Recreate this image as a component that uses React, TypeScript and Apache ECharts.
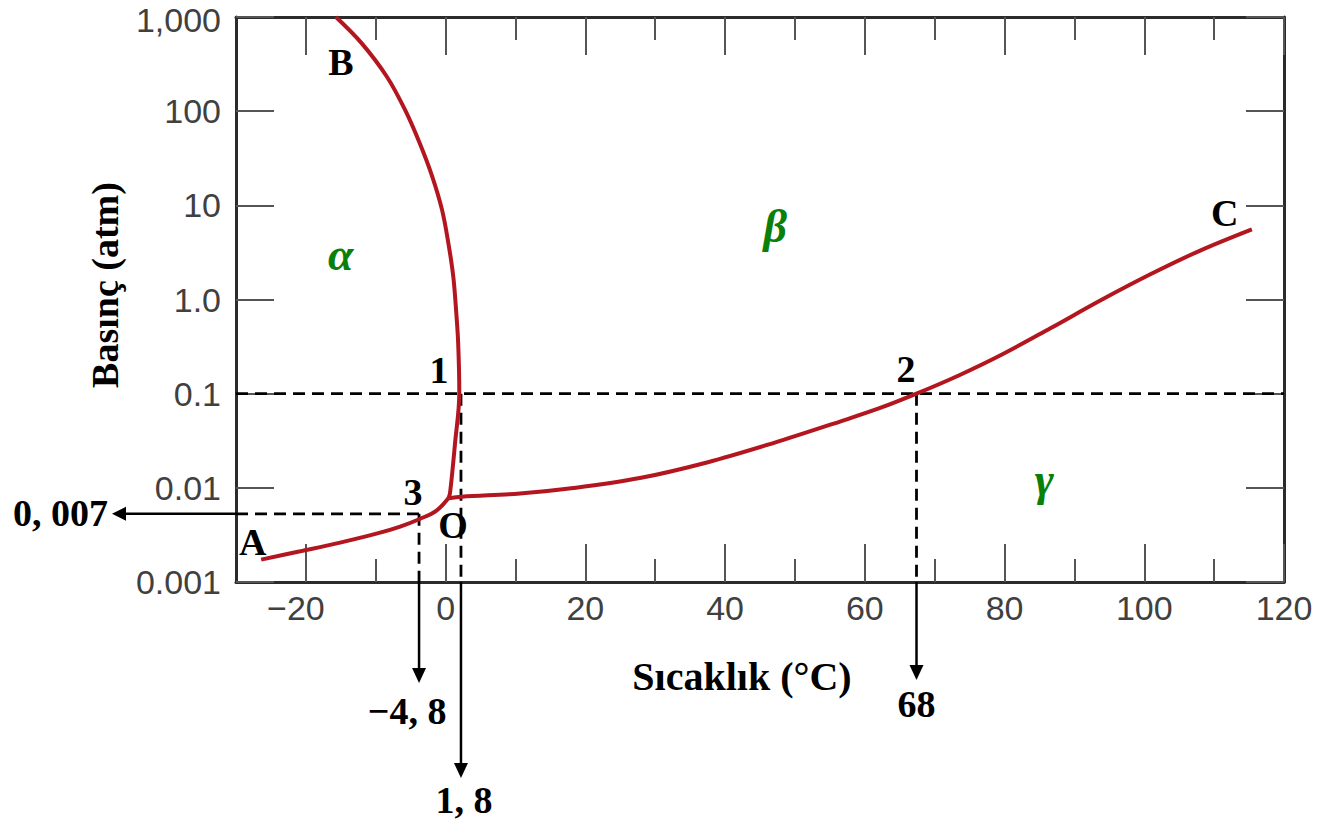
import React, { useEffect, useRef } from "react";
import * as echarts from "echarts";

// ---- axes ----
const xMin = -30;
const xMax = 120;
const xMajorTicks = [-20, 0, 20, 40, 60, 80, 100, 120];
const xMinorTicks = [-10, 10, 30, 50, 70, 90, 110];
const yMin = 0.001;
const yMax = 1000;
const yTicks = [0.001, 0.01, 0.1, 1, 10, 100, 1000];
const yTickLabels = ["0.001", "0.01", "0.1", "1.0", "10", "100", "1,000"];

// ---- phase boundaries (temperature °C, pressure atm) ----
const curveAO = [
  [-26.4, 0.00173], [-20.8, 0.00212], [-15.1, 0.00262], [-9.9, 0.00326],
  [-6.5, 0.00388], [-3.7, 0.00467], [-1.3, 0.00574], [0.4, 0.00775],
];
const curveOB = [
  [0.4, 0.00775], [0.63, 0.00875], [1.35, 0.0297], [1.96, 0.101], [1.8, 0.343],
  [1.5, 0.77], [1.1, 1.75], [0.4, 3.95], [-0.5, 8.9], [-1.9, 20.1],
  [-3.7, 45.6], [-5.8, 103], [-8.4, 232], [-12.0, 525], [-15.7, 1000],
];
const curveOC = [
  [0.4, 0.00775], [2.3, 0.00805], [10.65, 0.00871], [18.3, 0.00995], [27.8, 0.0127],
  [37.4, 0.0186], [46.9, 0.0299], [56.45, 0.0506], [62.2, 0.0705], [67.4, 0.1],
  [73.6, 0.158], [79.35, 0.254], [86.5, 0.492], [93.7, 0.975], [100.8, 1.84],
  [108.0, 3.31], [115.4, 5.56],
];

// ---- guide values ----
const guideP12 = 0.1; // pressure through points 1 and 2
const guideP3 = 0.0053; // pressure through point 3
const guideT3 = -3.8;
const guideT1 = 2.2;
const guideT2 = 67.4;
const guideTextT3 = "−4, 8";
const guideTextT1 = "1, 8";
const guideTextT2 = "68";
const guideTextP3 = "0, 007";

// ---- label anchors (data coords) ----
const pointLabels = [
  { text: "A", x: -27.6, y: 0.00266 },
  { text: "B", x: -15.0, y: 333 },
  { text: "C", x: 111.5, y: 8.28 },
  { text: "O", x: 1.06, y: 0.00403 },
  { text: "1", x: -0.94, y: 0.178 },
  { text: "2", x: 65.9, y: 0.183 },
  { text: "3", x: -4.67, y: 0.00904 },
];
const phaseLabels = [
  { text: "α", x: -15.0, y: 3.04 },
  { text: "β", x: 47.2, y: 5.89 },
  { text: "γ", x: 85.7, y: 0.0124 },
];

const xTitle = "Sıcaklık (°C)";
const yTitle = "Basınç (atm)";

const RED = "#b3161f";
const FRAME = "#2b2b2b";
const TICK = "#555";
const SERIF = '"Liberation Serif", "Times New Roman", serif';
const SANS = '"Liberation Sans", Arial, sans-serif';

export default function App() {
  const ref = useRef<HTMLDivElement>(null);

  useEffect(() => {
    if (!ref.current) return;
    const chart = echarts.init(ref.current, null, { renderer: "svg" });

    const tickStyle = { color: TICK, width: 2 };
    const labelFont = { fontSize: 34, fontFamily: SANS, color: "#404040" };
    const xBase = (pos: string, major: boolean, withLine: boolean, withLabel: boolean) => ({
      type: "value",
      min: xMin,
      max: xMax,
      position: pos,
      axisLine: { show: withLine, onZero: false, lineStyle: { color: FRAME, width: 3 } },
      axisTick: {
        show: true,
        inside: true,
        length: major ? 38 : 23,
        customValues: major ? xMajorTicks : xMinorTicks,
        lineStyle: tickStyle,
      },
      axisLabel: withLabel
        ? {
            show: true,
            customValues: xMajorTicks,
            margin: 9,
            ...labelFont,
            formatter: (v: number) => (v < 0 ? `{neg|−${Math.abs(v)}}` : `${v}`),
            rich: { neg: { ...labelFont, padding: [0, 20, 0, 0] } },
          }
        : { show: false },
      splitLine: { show: false },
    });

    const yBase = (pos: string, withLabel: boolean) => ({
      type: "log",
      logBase: 10,
      min: yMin,
      max: yMax,
      position: pos,
      axisLine: { show: true, onZero: false, lineStyle: { color: FRAME, width: 3 } },
      axisTick: { show: true, inside: true, length: 38, customValues: yTicks, lineStyle: tickStyle },
      axisLabel: withLabel
        ? {
            show: true,
            customValues: yTicks,
            margin: 15,
            lineHeight: 30,
            ...labelFont,
            formatter: (v: number) => {
              const i = Math.round(Math.log10(v)) + 3;
              const s = yTickLabels[i] ?? String(v);
              return i === yTicks.length - 1 ? `{top|${s}}` : s;
            },
            rich: { top: { ...labelFont, lineHeight: 30, padding: [6, 0, 0, 0] } },
          }
        : { show: false },
      splitLine: { show: false },
      minorTick: { show: false },
    });

    const curve = (data: number[][]) => ({
      type: "line",
      xAxisIndex: 0,
      yAxisIndex: 0,
      data,
      smooth: 0.35,
      showSymbol: false,
      symbol: "none",
      lineStyle: { color: RED, width: 4 },
      z: 5,
    });
    const dashed = (data: number[][]) => ({
      type: "line",
      xAxisIndex: 0,
      yAxisIndex: 0,
      data,
      showSymbol: false,
      symbol: "none",
      lineStyle: { color: "#000", width: 2.8, type: [12, 7] },
      z: 4,
    });

    chart.setOption({
      animation: false,
      backgroundColor: "#fff",
      grid: { left: 236, right: 44, top: 17, bottom: 242, outerBoundsMode: "none" },
      xAxis: [
        xBase("bottom", true, true, true),
        xBase("bottom", false, false, false),
        xBase("top", true, true, false),
        xBase("top", false, false, false),
      ],
      yAxis: [yBase("left", true), yBase("right", false)],
      series: [
        dashed([[xMin, guideP12], [xMax, guideP12]]),
        dashed([[guideT1, guideP12], [guideT1, yMin]]),
        dashed([[guideT2, guideP12], [guideT2, yMin]]),
        dashed([[xMin, guideP3], [guideT3, guideP3]]),
        dashed([[guideT3, guideP3], [guideT3, yMin]]),
        curve(curveAO),
        curve(curveOB),
        curve(curveOC),
      ],
    });

    const toPx = (x: number, y: number) =>
      chart.convertToPixel({ xAxisIndex: 0, yAxisIndex: 0 }, [x, y]) as number[];

    const boldSerif = (size: number) => `bold ${size}px ${SERIF}`;
    const txt = (text: string, x: number, y: number, font: string, fill = "#000", align = "center", extra: any = {}) => ({
      type: "text",
      x,
      y,
      z: 20,
      ...extra,
      style: {
        text,
        font,
        fill,
        align,
        verticalAlign: "middle",
        textAlign: align,
        textVerticalAlign: "middle",
      },
    });

    const elements: any[] = [];
    const arrowDown = (xv: number, len: number, label: string, dx: number, dy: number) => {
      const [bx, by] = toPx(xv, yMin);
      const tipY = by + len;
      elements.push({ type: "line", z: 20, shape: { x1: bx, y1: by, x2: bx, y2: tipY - 10 }, style: { stroke: "#000", lineWidth: 2.5 } });
      elements.push({ type: "polygon", z: 20, shape: { points: [[bx - 7, tipY - 15], [bx + 7, tipY - 15], [bx, tipY]] }, style: { fill: "#000" } });
      elements.push(txt(label, bx + dx, tipY + dy, boldSerif(38)));
    };
    arrowDown(guideT3, 101, guideTextT3, -12, 28);
    arrowDown(guideT1, 196, guideTextT1, 3, 22);
    arrowDown(guideT2, 98, guideTextT2, 0, 24);

    {
      const [bx, by] = toPx(xMin, guideP3);
      const tipX = bx - 124;
      elements.push({ type: "line", z: 20, shape: { x1: bx, y1: by, x2: tipX + 10, y2: by }, style: { stroke: "#000", lineWidth: 2.5 } });
      elements.push({ type: "polygon", z: 20, shape: { points: [[tipX + 14, by - 7], [tipX + 14, by + 7], [tipX, by]] }, style: { fill: "#000" } });
      elements.push(txt(guideTextP3, tipX - 4, by - 1, boldSerif(38), "#000", "right"));
    }

    pointLabels.forEach((p) => {
      const [x, y] = toPx(p.x, p.y);
      elements.push(txt(p.text, x, y, boldSerif(38)));
    });
    phaseLabels.forEach((p) => {
      const [x, y] = toPx(p.x, p.y);
      elements.push(txt(p.text, x, y, `italic bold 46px ${SERIF}`, "#0a7f0a"));
    });

    elements.push(txt(xTitle, 742, 676, boldSerif(40)));
    elements.push(txt(yTitle, 105, 285, boldSerif(38), "#000", "center", { rotation: Math.PI / 2 }));

    chart.setOption({ graphic: { elements } });

    return () => chart.dispose();
  }, []);

  return (
    <div
      ref={ref}
      style={{ position: "absolute", left: 0, top: 0, width: 1328, height: 824, background: "#fff" }}
    />
  );
}
